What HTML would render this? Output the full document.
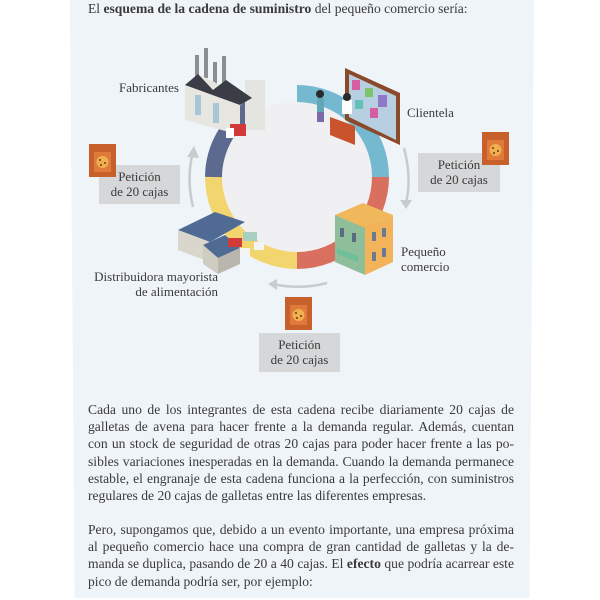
<!DOCTYPE html>
<html><head><meta charset="utf-8"><style>
body{margin:0;background:#fff;width:600px;height:600px;overflow:hidden;position:relative;font-family:"Liberation Serif",serif;color:#3a3a3a}
.panel{position:absolute;left:70px;top:0;width:464px;height:598px;background:#eff4f9;clip-path:polygon(0 0,100% 0,99% 100%,1% 100%)}
.h{position:absolute;left:88px;top:1px;font-size:13.6px;white-space:nowrap}
.p{position:absolute;left:88px;width:426px;font-size:13.6px;line-height:17.2px}
.p div{text-align:justify;text-align-last:justify;white-space:nowrap;height:17.2px}
.p div.l{text-align-last:left}
svg{position:absolute;left:0;top:0}
</style></head><body>
<div class="panel"></div>
<div class="h">El <b>esquema de la cadena de suministro</b> del pequeño comercio sería:</div>
<svg width="600" height="600" viewBox="0 0 600 600" font-family="Liberation Serif, serif" font-size="13" fill="#3a3a3a">
<circle cx="297" cy="177" r="76" fill="#f0f0f2"/>
<g fill="none" stroke-width="17">
<path d="M297 93.5 A83.5 83.5 0 0 1 380.5 177" stroke="#74b9cf"/>
<path d="M380.5 177 A83.5 83.5 0 0 1 297 260.5" stroke="#d9705f"/>
<path d="M297 260.5 A83.5 83.5 0 0 1 213.5 177" stroke="#f2d56e"/>
<path d="M213.5 177 A83.5 83.5 0 0 1 256 105" stroke="#5d6a8f"/>
</g>
<g fill="none" stroke="#c8cbcf" stroke-width="2.5">
<path d="M193 207 Q186 178 193 152"/>
<path d="M404 148 Q412 178 406 203"/>
<path d="M327 283 Q300 290 273 284"/>
</g>
<g fill="#c8cbcf">
<path d="M187 157 L194 146 L199 158 Z"/>
<path d="M400 200 L406 209 L412 200 Z"/>
<path d="M277 279 L268 284 L277 290 Z"/>
</g>
<g>
<rect x="195" y="55" width="4" height="25" fill="#8a8d92"/><rect x="204" y="48" width="4" height="30" fill="#8a8d92"/>
<rect x="213" y="62" width="4" height="25" fill="#8a8d92"/><rect x="222" y="56" width="4" height="28" fill="#8a8d92"/>
<rect x="245" y="80" width="20" height="50" fill="#e4e4e0"/>
<path d="M185 85 L200 75 L240 95 L240 135 L185 120 Z" fill="#e8e6e0"/>
<path d="M185 85 L198 74 L213 90 L226 80 L252 98 L240 105 Z" fill="#3a3d45"/>
<rect x="195" y="95" width="6" height="20" fill="#a9c6d8"/><rect x="213" y="103" width="6" height="20" fill="#a9c6d8"/>
<rect x="230" y="124" width="16" height="12" fill="#d23a3a"/><rect x="226" y="128" width="8" height="10" fill="#fff"/>
</g>
<g>
<path d="M345 68 L400 93 L400 145 L345 120 Z" fill="#8a4a2a"/>
<path d="M349 74 L396 96 L396 140 L349 117 Z" fill="#b7cfe0"/>
<rect x="352" y="80" width="8" height="10" fill="#d35fa0"/><rect x="365" y="88" width="8" height="9" fill="#7ec46a"/><rect x="378" y="95" width="9" height="12" fill="#8d78c9"/>
<rect x="355" y="100" width="8" height="9" fill="#62c2b7"/><rect x="370" y="108" width="8" height="10" fill="#d35fa0"/>
<path d="M330 117 L355 126 L355 145 L330 135 Z" fill="#c9532c"/>
<rect x="342" y="100" width="10" height="14" fill="#fff"/><circle cx="347" cy="97" r="4" fill="#2a2a2a"/>
<rect x="317" y="98" width="7" height="15" fill="#63a7b6"/><rect x="317" y="112" width="7" height="10" fill="#7c6aa8"/><circle cx="320" cy="94" r="4" fill="#2a2a2a"/>
</g>
<g>
<path d="M335 215 L363 203 L393 215 L365 228 Z" fill="#f0b85a"/>
<path d="M335 215 L365 228 L365 275 L335 262 Z" fill="#8fbf9a"/>
<path d="M365 228 L393 215 L393 262 L365 275 Z" fill="#f2b35a"/>
<rect x="340" y="228" width="4" height="9" fill="#5a6a80"/><rect x="352" y="233" width="4" height="9" fill="#5a6a80"/>
<rect x="372" y="232" width="4" height="9" fill="#6a7a90"/><rect x="382" y="228" width="4" height="9" fill="#6a7a90"/>
<rect x="372" y="252" width="4" height="9" fill="#6a7a90"/><rect x="382" y="248" width="4" height="9" fill="#6a7a90"/>
<path d="M337 248 L358 256 L358 262 L337 254 Z" fill="#6fbf9a"/>
</g>
<g>
<path d="M178 230 L215 212 L245 222 L210 242 Z" fill="#4f6b93"/>
<path d="M178 230 L210 242 L210 262 L178 250 Z" fill="#d9d6cc"/>
<path d="M203 245 L225 235 L240 248 L218 258 Z" fill="#4f6b93"/>
<path d="M203 245 L218 258 L218 274 L203 264 Z" fill="#cfccc2"/>
<path d="M218 258 L240 248 L240 264 L218 274 Z" fill="#b9b6ad"/>
<rect x="228" y="238" width="14" height="9" fill="#d23a3a"/><rect x="243" y="232" width="14" height="9" fill="#a8d0c0"/>
<rect x="240" y="248" width="10" height="8" fill="#f4f4f4"/><rect x="254" y="242" width="10" height="8" fill="#f4f4f4"/>
</g>
<text x="119" y="92">Fabricantes</text>
<text x="407" y="117">Clientela</text>
<text x="401" y="256">Pequeño</text><text x="401" y="271">comercio</text>
<text x="218" y="281" text-anchor="end">Distribuidora mayorista</text>
<text x="218" y="296" text-anchor="end">de alimentación</text>
<rect x="99" y="165" width="81" height="39" fill="#d6d7d9"/>
<text x="139.5" y="181" text-anchor="middle">Petición</text><text x="139.5" y="196" text-anchor="middle">de 20 cajas</text>
<rect x="418" y="153" width="82" height="39" fill="#d6d7d9"/>
<text x="459" y="169" text-anchor="middle">Petición</text><text x="459" y="184" text-anchor="middle">de 20 cajas</text>
<rect x="259" y="333" width="81" height="39" fill="#d6d7d9"/>
<text x="299.5" y="349" text-anchor="middle">Petición</text><text x="299.5" y="364" text-anchor="middle">de 20 cajas</text>
<g id="c1"><rect x="89" y="144" width="27" height="33" fill="#c8602c"/><rect x="94" y="152" width="17" height="20" fill="#e07a3a"/><circle cx="102.5" cy="162" r="6" fill="#f0b050"/><circle cx="100" cy="160" r="1" fill="#6a3a1a"/><circle cx="105" cy="163" r="1" fill="#6a3a1a"/><circle cx="101" cy="165" r="1" fill="#6a3a1a"/></g>
<use href="#c1" x="393" y="-12"/>
<use href="#c1" x="196" y="153"/>
</svg>
<div class="p" style="top:401px">
<div>Cada uno de los integrantes de esta cadena recibe diariamente 20 cajas de</div>
<div>galletas de avena para hacer frente a la demanda regular. Además, cuentan</div>
<div>con un stock de seguridad de otras 20 cajas para poder hacer frente a las po-</div>
<div>sibles variaciones inesperadas en la demanda. Cuando la demanda permanece</div>
<div>estable, el engranaje de esta cadena funciona a la perfección, con suministros</div>
<div class="l">regulares de 20 cajas de galletas entre las diferentes empresas.</div>
</div>
<div class="p" style="top:521px">
<div>Pero, supongamos que, debido a un evento importante, una empresa próxima</div>
<div>al pequeño comercio hace una compra de gran cantidad de galletas y la de-</div>
<div>manda se duplica, pasando de 20 a 40 cajas. El <b>efecto</b> que podría acarrear este</div>
<div class="l">pico de demanda podría ser, por ejemplo:</div>
</div>
</body></html>
